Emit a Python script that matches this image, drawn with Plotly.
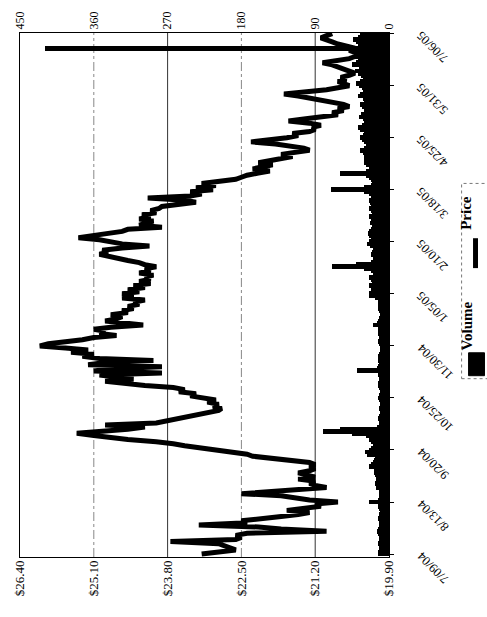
import plotly.graph_objects as go

# ---------------- data ----------------
date_ticks = [0, 25, 50, 75, 100, 125, 150, 175, 200, 225, 250]
date_labels = ['7/09/04', '8/13/04', '9/20/04', '10/25/04', '11/30/04', '1/05/05',
               '2/10/05', '3/18/05', '4/25/05', '5/31/05', '7/06/05']

price_ticks = [26.40, 25.10, 23.80, 22.50, 21.20, 19.90]
price_labels = ['$26.40', '$25.10', '$23.80', '$22.50', '$21.20', '$19.90']
volume_ticks = [450, 360, 270, 180, 90, 0]

price = [
    # 0-60
    23.2, 22.8, 22.6, 22.7, 22.8, 22.9, 23.75, 22.6, 22.5, 22.6,
    22.4, 21.0, 21.8, 22.2, 23.25, 22.4, 22.5, 22.0, 21.8, 21.5,
    21.3, 21.7, 21.3, 21.1, 21.2, 20.8, 21.3, 21.6, 21.8, 22.5,
    21.9, 21.4, 21.0, 21.2, 21.3, 21.2, 21.5, 21.2, 21.4, 21.5,
    21.3, 21.2, 21.3, 21.2, 21.3, 21.6, 22.0, 22.3, 22.4, 22.7,
    22.9, 23.2, 23.5, 23.7, 24.0, 24.5, 24.9, 25.1, 25.4, 24.9,
    24.5,
    # 61-124
    24.2, 24.9, 24.0, 23.8, 23.7, 23.5, 23.3, 23.1, 22.9, 22.85,
    23.0, 22.9, 23.1, 22.95, 23.2, 23.4, 23.3, 23.6, 23.5, 23.7,
    24.2, 24.5, 24.9, 24.4, 24.7, 25.0, 23.9, 25.1, 24.8, 23.9,
    25.2, 24.9, 24.05, 25.0, 25.3, 25.1, 25.5, 25.2, 25.6, 26.05,
    25.9, 25.5, 25.3, 25.1, 24.7, 25.0, 24.9, 25.1, 24.8, 24.23,
    24.7, 24.9, 24.7, 24.6, 24.8, 24.5, 24.6, 24.4, 24.5, 24.3,
    24.4, 24.2, 24.6, 24.4,
    # 125-190
    24.6, 24.3, 24.5, 24.2, 24.4, 24.1, 24.3, 24.1, 24.2, 24.05,
    24.3, 24.1, 24.2, 24.0, 24.2, 24.3, 24.5, 24.7, 24.9, 25.0,
    24.85, 24.95, 24.6, 24.12, 24.6, 24.8, 25.0, 25.37, 25.1, 24.8,
    24.6, 24.5, 23.9, 24.3, 24.2, 24.05, 24.3, 24.1, 24.25, 24.0,
    24.1, 23.95, 23.9, 23.6, 23.3, 23.5, 24.15, 23.4, 23.2, 23.4,
    23.0, 23.3, 22.95, 23.2, 22.9, 22.6, 22.5, 22.4, 22.2, 22.0,
    22.3, 22.1, 21.95, 22.2, 22.0, 21.9,
    # 191-250
    21.6, 21.8, 21.5, 21.3, 21.4, 21.6, 21.9, 22.33, 21.9, 21.7,
    21.5, 21.6, 21.3, 21.2, 21.25, 21.1, 21.3, 21.67, 21.4, 21.0,
    20.8, 20.9, 20.7, 20.8, 20.6, 20.7, 20.9, 21.0, 21.2, 21.5,
    21.75, 21.3, 21.0, 20.8, 20.6, 20.7, 20.8, 20.65, 20.75, 20.6,
    20.5, 20.6, 20.7, 20.8, 20.9, 21.07, 20.8, 20.6, 20.5, 20.4,
    20.5, 20.6, 20.5, 20.7, 20.8, 20.9, 21.0, 21.1, 21.0, 20.9,
]

volume = [
    # 0-60
    14, 13, 12, 12, 11, 13, 12, 12, 11, 12,
    13, 15, 14, 12, 12, 11, 12, 13, 12, 12,
    11, 10, 12, 13, 14, 25, 13, 12, 11, 12,
    11, 12, 16, 15, 17, 16, 15, 16, 17, 18,
    17, 18, 24, 22, 20, 18, 17, 16, 27, 29,
    25, 22, 20, 18, 22, 24, 20, 28, 45, 81,
    60,
    # 61-124
    15, 12, 11, 12, 13, 12, 11, 10, 11, 12,
    11, 10, 11, 12, 13, 12, 11, 10, 11, 12,
    14, 13, 12, 11, 12, 13, 14, 39, 15, 13,
    12, 11, 14, 13, 14, 12, 10, 11, 10, 11,
    12, 13, 12, 12, 11, 13, 14, 13, 12, 19,
    15, 13, 12, 11, 10, 11, 12, 13, 14, 12,
    13, 14, 17, 25,
    # 125-190
    24, 22, 20, 22, 25, 21, 20, 22, 24, 20,
    19, 22, 30, 69, 40, 22, 20, 18, 20, 22,
    21, 19, 20, 23, 27, 25, 22, 20, 24, 26,
    25, 22, 20, 21, 23, 20, 22, 24, 21, 20,
    22, 24, 22, 21, 23, 25, 22, 20, 24, 30,
    71, 30, 22, 20, 21, 22, 24, 28, 60, 28,
    22, 24, 28, 31, 30, 28,
    # 191-250
    30, 28, 32, 35, 30, 28, 26, 30, 33, 35,
    32, 30, 28, 35, 38, 33, 30, 28, 32, 36,
    34, 30, 28, 31, 33, 35, 30, 28, 32, 38,
    35, 32, 30, 33, 36, 40, 35, 32, 30, 34,
    38, 42, 36, 33, 45, 40, 35, 38, 42, 36,
    40, 45, 420, 38, 35, 40, 44, 38, 35, 32,
]

day_index = list(range(len(price)))

# ---------------- figure ----------------
W, H = 487, 617
L, R, T, B = 18, 389, 31, 557   # plot-area pixel box


def px(x):
    return (x - L) / (R - L)


def py(y):
    return (B - y) / (B - T)


SERIF = 'Liberation Serif'

fig = go.Figure()
fig.add_trace(go.Bar(
    x=volume, y=day_index, orientation='h', xaxis='x', yaxis='y',
    marker=dict(color='black', line=dict(width=0)), width=2.3, name='Volume'))
fig.add_trace(go.Scatter(
    x=price, y=day_index, xaxis='x2', yaxis='y', mode='lines',
    line=dict(color='black', width=5), name='Price'))

shapes = []
for v, dash, col in [(360, 'dashdot', '#888'), (270, 'solid', '#333'),
                     (180, 'dashdot', '#888'), (90, 'solid', '#333')]:
    shapes.append(dict(type='line', xref='x', yref='paper', x0=v, x1=v, y0=0, y1=1,
                       line=dict(color=col, width=1, dash=dash), layer='below'))

# legend box (rotated legend)
shapes.append(dict(type='rect', xref='paper', yref='paper',
                   x0=px(462), x1=px(490), y0=py(378), y1=py(182),
                   line=dict(color='#777', width=1, dash='dot')))
shapes.append(dict(type='rect', xref='paper', yref='paper',
                   x0=px(469), x1=px(485), y0=py(375), y1=py(352),
                   fillcolor='black', line=dict(color='black', width=1)))
shapes.append(dict(type='line', xref='paper', yref='paper',
                   x0=px(476), x1=px(476), y0=py(267), y1=py(237),
                   line=dict(color='black', width=5)))

annotations = []
for t, lab in zip(date_ticks, date_labels):
    annotations.append(dict(
        x=1, xref='paper', y=t, yref='y', xshift=22, yshift=8,
        xanchor='left', yanchor='top', text=lab, showarrow=False,
        textangle=-135, font=dict(family=SERIF, size=12.5, color='black')))
annotations.append(dict(x=px(477), y=py(325), xref='paper', yref='paper',
                        text='<b>Volume</b>', showarrow=False, textangle=-90,
                        font=dict(family=SERIF, size=15, color='black')))
annotations.append(dict(x=px(477), y=py(212), xref='paper', yref='paper',
                        text='<b>Price</b>', showarrow=False, textangle=-90,
                        font=dict(family=SERIF, size=15, color='black')))

fig.update_layout(
    width=W, height=H,
    margin=dict(l=L, r=W - R, t=T, b=H - B),
    paper_bgcolor='white', plot_bgcolor='white',
    showlegend=False, bargap=0,
    font=dict(family=SERIF, color='black'),
    xaxis=dict(range=[450, 0], side='top', tickvals=volume_ticks,
               ticktext=[str(v) for v in volume_ticks], tickangle=-90,
               showgrid=False, zeroline=False, showline=True, mirror=True,
               linecolor='black', linewidth=1, ticks='',
               tickfont=dict(family=SERIF, size=12, color='black')),
    xaxis2=dict(range=[26.40, 19.90], overlaying='x', side='bottom', anchor='y',
                tickvals=price_ticks, ticktext=price_labels, tickangle=-90,
                showgrid=False, zeroline=False, showline=False, ticks='',
                tickfont=dict(family=SERIF, size=13, color='black')),
    yaxis=dict(range=[-1.4, 250.3], side='right', tickvals=date_ticks,
               showticklabels=False, ticks='outside', ticklen=4, tickcolor='black',
               showgrid=False, zeroline=False, showline=True, mirror=True,
               linecolor='black', linewidth=1),
    shapes=shapes, annotations=annotations,
)

fig.write_html('out.html', config={'displayModeBar': False},
               post_script="document.body.style.margin='0px';")
